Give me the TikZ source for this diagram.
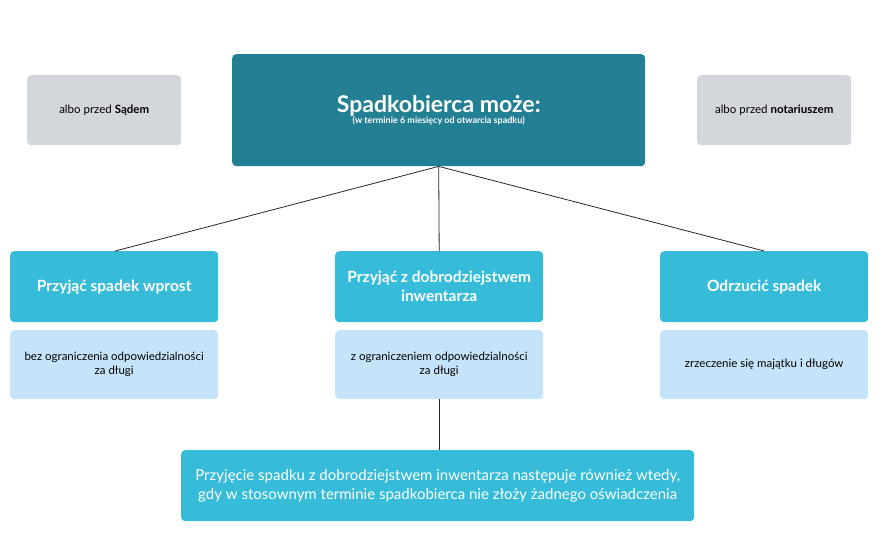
\documentclass[tikz,border=0pt]{standalone}
\usepackage{fontspec}
\setmainfont{Lato}
\usepackage{xcolor}
\definecolor{teal}{HTML}{237F93}
\definecolor{cyan}{HTML}{36BCD8}
\definecolor{pale}{HTML}{C6E4F9}
\definecolor{greybox}{HTML}{D3D7DC}
\begin{document}
\begin{tikzpicture}[
		x=1pt, y=-1pt,
		box/.style={rectangle, rounded corners=4pt, inner sep=2pt, align=center, anchor=north west},
		side/.style={box, fill=greybox, minimum width=154pt, minimum height=70pt, font=\fontsize{11.5}{14}\selectfont},
		choice/.style={box, fill=cyan, text=white, minimum width=208pt, minimum height=71pt, font=\fontsize{15.5}{19}\selectfont\bfseries},
		note/.style={box, fill=pale, minimum width=208pt, minimum height=69pt, font=\fontsize{11.5}{14}\selectfont},
		link/.style={draw=black!85, line width=0.8pt}
		]
		\useasboundingbox (0,0) rectangle (880,540);
		\node[side] (sad) at (27,75) {albo przed \textbf{Sądem}};
		\node[side] (notariusz) at (697,75) {albo przed \textbf{notariuszem}};
		\node[box, fill=teal, text=white, minimum width=413pt, minimum height=112pt] (main) at (232,54)
			{{\fontsize{23}{26}\selectfont\bfseries Spadkobierca może:}\\[-1pt]{\fontsize{9}{11}\selectfont\bfseries (w terminie 6 miesięcy od otwarcia spadku)}};
		\node[choice] (wprost) at (10,251) {Przyjąć spadek wprost};
		\node[choice] (inwentarz) at (335,251) {Przyjąć z dobrodziejstwem\\inwentarza};
		\node[choice] (odrzuc) at (660,251) {Odrzucić spadek};
		\node[note] (wprostN) at (10,330) {bez ograniczenia odpowiedzialności\\za długi};
		\node[note] (inwentarzN) at (335,330) {z ograniczeniem odpowiedzialności\\za długi};
		\node[note] (odrzucN) at (660,330) {zrzeczenie się majątku i długów};
		\node[box, fill=cyan, text=white, minimum width=513pt, minimum height=71pt, font=\fontsize{15}{19}\selectfont] (brak) at (181,450)
			{Przyjęcie spadku z dobrodziejstwem inwentarza następuje również wtedy,\\gdy w stosownym terminie spadkobierca nie złoży żadnego oświadczenia};
		\draw[link] (main.south) -- ([xshift=1pt]wprost.north);
		\draw[link] (main.south) -- (inwentarz.north);
		\draw[link] (main.south) -- (odrzuc.north);
		\draw[link] (inwentarzN.south) -- (brak.north -| inwentarzN.south);
	\end{tikzpicture}
\end{document}
